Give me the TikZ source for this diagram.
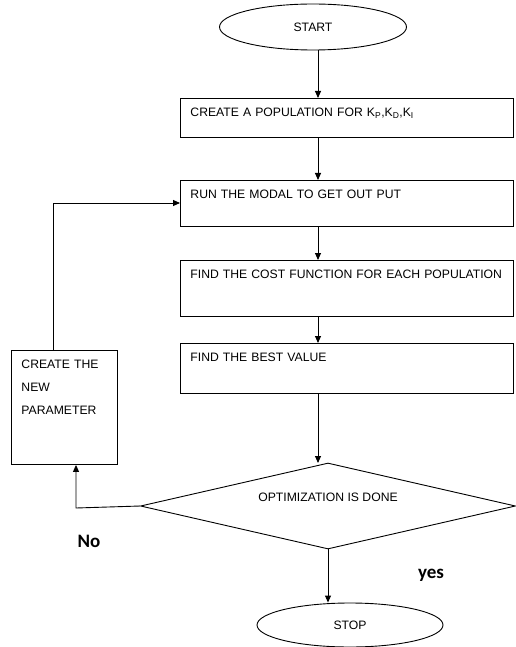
\documentclass[tikz,border=0pt]{standalone}
\usepackage{fontspec}
\setmainfont{Liberation Sans}
\newfontfamily\answerfont{Carlito}
\usetikzlibrary{positioning,shapes.geometric,arrows.meta}
\tikzset{
  procBox/.style={rectangle, draw, anchor=north west, align=left, inner xsep=10pt, inner ysep=6pt, text height=12pt, line width=0.9pt},
  termNode/.style={ellipse, draw, inner sep=0pt, line width=0.9pt},
  decisionNode/.style={diamond, aspect=4.4, draw, inner sep=0pt, line width=0.9pt},
  answerLabel/.style={font={\answerfont\bfseries\fontsize{19}{22}\selectfont}},
  flowArrow/.style={-{Triangle[length=7pt,width=6pt]}, line width=0.9pt}
}

\begin{document}
\begin{tikzpicture}[x=1pt, y=-1pt, font={\fontsize{12.2}{15}\selectfont}]
      \useasboundingbox (0,0) rectangle (515,647);

      % main column
      \node[termNode, minimum width=187pt, minimum height=46pt] (start) at (313,27) {START};
      \node[procBox, text width=313pt, text depth=15pt] (cpop) at (180,98) {CREATE A POPULATION FOR K\textsubscript{P},K\textsubscript{D},K\textsubscript{I}};
      \node[procBox, text width=313pt, text depth=22pt] (runm) at (180,180) {RUN THE MODAL TO GET OUT PUT};
      \node[procBox, text width=313pt, text depth=32pt] (cost) at (180,260) {\mbox{FIND THE COST FUNCTION FOR EACH POPULATION}};
      \node[procBox, text width=313pt, text depth=26pt] (best) at (180,343) {FIND THE BEST VALUE};
      \node[decisionNode, minimum width=375pt, minimum height=86pt, text depth=18pt] (dec) at (328,506) {OPTIMIZATION IS DONE};
      \node[termNode, minimum width=186pt, minimum height=44pt] (stop) at (350,625) {STOP};

      % loop box
      \node[procBox, text width=86pt, text depth=90pt] (newp) at (11,350) {CREATE THE\\[8pt] NEW\\[8pt] PARAMETER};

      \coordinate (col) at (318,0);
      \coordinate (nobend) at (76,508);
      \coordinate (loopup) at (53,203);

      \draw[flowArrow] (start.south -| col) -- (col |- cpop.north);
      \draw[flowArrow] (cpop.south -| col) -- (col |- runm.north);
      \draw[flowArrow] (runm.south -| col) -- (col |- cost.north);
      \draw[flowArrow] (cost.south -| col) -- (col |- best.north);
      \draw[flowArrow] (best.south -| col) -- (318,463);
      \draw[flowArrow] (dec.south) -- (dec.south |- stop.north);

      \draw[flowArrow] (dec.west) -- (nobend) -- (nobend |- newp.south);
      \draw[flowArrow] (newp.north -| loopup) -- (loopup) -- (loopup -| runm.west);

      \node[answerLabel] (nolbl) at (89,541) {No};
      \node[answerLabel] (yeslbl) at (431,575) {yes};
\end{tikzpicture}
\end{document}
